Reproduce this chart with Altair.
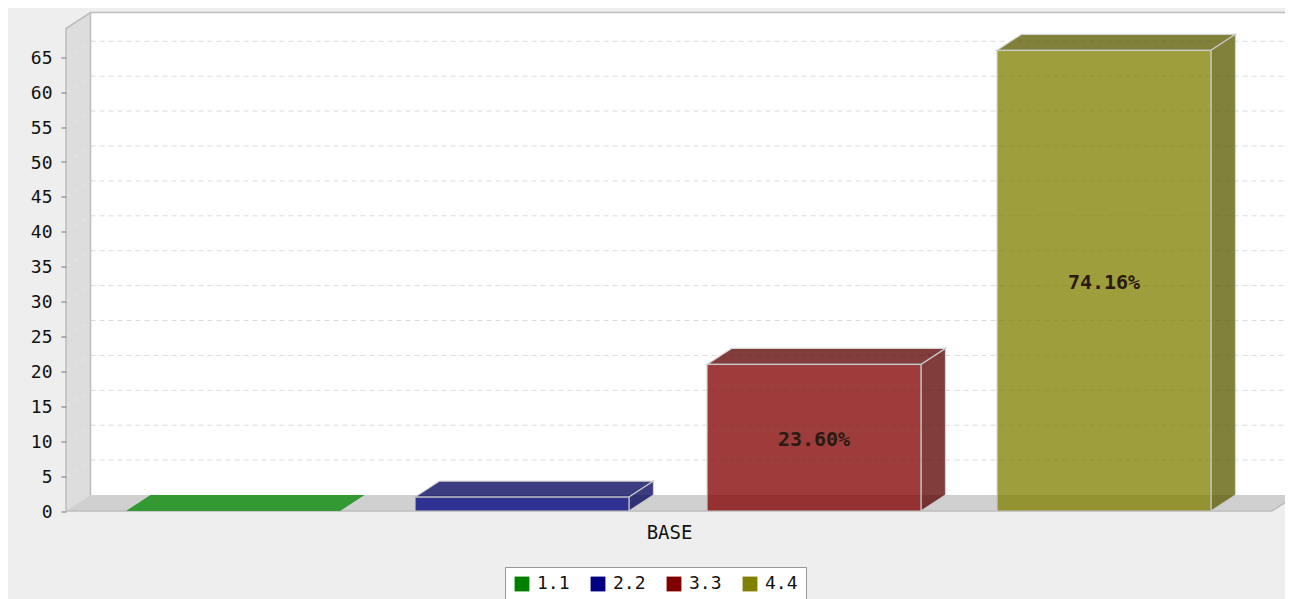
import altair as alt
import pandas as pd

series = ["1.1", "2.2", "3.3", "4.4"]
values = [0, 2, 21, 66]
labels = ["", "", "23.60%", "74.16%"]
front_colors = ["#008000", "#000080", "#800000", "#808000"]
dark_colors = ["#008000", "#00005a", "#5a0000", "#5a5a00"]
y_ticks = list(range(0, 70, 5))
category = "BASE"

PX = 6.98            # pixels per value unit
Y_MAX = 482.5 / PX   # top of the front plane
DX = 24.5            # depth, x scale units
DY = 16 / PX         # depth, y scale units
FRONT_W = 1206.0     # category axis length
VIEW_W = 1219.0
BAR_W = 214.0
OPACITY = 0.76
EDGE = "#c8c8c8"
MONO = "DejaVu Sans Mono"
bar_left = [60.0, 349.0, 641.0, 931.0]
RIGHT = FRONT_W + DX + 10


def para(face, x0, x1, y, fill, stroke="none", opacity=1.0):
    """Horizontal parallelogram receding into the depth."""
    rows = [(x0, y, y), (x0 + DX, y, y + DY), (x1, y, y + DY), (x1 + DX, y + DY, y + DY)]
    return [dict(face=face, x=a, y=b, y2=c, fill=fill, edge=stroke, op=opacity) for a, b, c in rows]


def side(face, x, y0, y1, fill, stroke="none", opacity=1.0):
    """Vertical parallelogram receding into the depth."""
    return [
        dict(face=face, x=x, y=y0, y2=y1, fill=fill, edge=stroke, op=opacity),
        dict(face=face, x=x + DX, y=y0 + DY, y2=y1 + DY, fill=fill, edge=stroke, op=opacity),
    ]


X = alt.X("x:Q", scale=alt.Scale(domain=[0, VIEW_W], nice=False, zero=False), axis=alt.Axis(
    values=[FRONT_W / 2], labelExpr=f"'{category}'", title=None, domain=False, ticks=False, grid=False,
    labelFont=MONO, labelFontSize=19, labelColor="#111111", labelPadding=12,
))
Y = alt.Y("y:Q", scale=alt.Scale(domain=[0, Y_MAX], nice=False, zero=False), axis=alt.Axis(
    values=y_ticks, title=None, domain=False, grid=False, tickSize=5, tickColor="#999999", tickWidth=1.5,
    labelFont=MONO, labelFontSize=18, labelColor="#111111", labelPadding=9, labelOffset=1, zindex=1,
))


def faces(rows):
    return alt.Chart(pd.DataFrame(rows)).mark_area(strokeWidth=1.2).encode(
        x=X, y=Y, y2="y2:Q",
        fill=alt.Fill("fill:N", scale=None),
        stroke=alt.Stroke("edge:N", scale=None),
        opacity=alt.Opacity("op:Q", scale=None),
        detail="face:N",
    )


# walls and floor
walls = faces(
    side("leftwall", 0, 0, Y_MAX, "#dddddd")
    + para("floor", 0, FRONT_W, 0, "#d0d0d0")
    + [dict(face="back", x=DX, y=DY, y2=Y_MAX + DY, fill="#ffffff", edge="none", op=1.0),
       dict(face="back", x=RIGHT, y=DY, y2=Y_MAX + DY, fill="#ffffff", edge="none", op=1.0)]
)

# grid
grid_df = pd.DataFrame([dict(x=DX, x2=RIGHT, y=v + DY) for v in y_ticks[1:]])
grid = alt.Chart(grid_df).mark_rule(color="#dcdcdc", strokeDash=[5, 4], strokeWidth=1).encode(x=X, x2="x2:Q", y=Y)

diag_rows = []
for v in y_ticks[1:]:
    diag_rows += [dict(v=v, x=0, y=v), dict(v=v, x=DX, y=v + DY)]
diag = alt.Chart(pd.DataFrame(diag_rows)).mark_line(color="#e8e8e8", strokeDash=[5, 4], strokeWidth=1).encode(x=X, y=Y, detail="v:N")

# wall outlines
edge_rows = [
    dict(k="a", x=0, y=0, i=0), dict(k="a", x=0, y=Y_MAX, i=1), dict(k="a", x=DX, y=Y_MAX + DY, i=2), dict(k="a", x=RIGHT, y=Y_MAX + DY, i=3),
    dict(k="b", x=DX, y=DY, i=0), dict(k="b", x=DX, y=Y_MAX + DY, i=1),
    dict(k="c", x=0, y=0, i=0), dict(k="c", x=FRONT_W, y=0, i=1), dict(k="c", x=FRONT_W + DX, y=DY, i=2),
]
edges = alt.Chart(pd.DataFrame(edge_rows)).mark_line(color="#bdbdbd", strokeWidth=1.5).encode(
    x=X, y=Y, detail="k:N", order="i:Q"
)

# bars: tops and sides
rows = []
for s, v, left, d in zip(series, values, bar_left, dark_colors):
    if v == 0:
        rows += para("top" + s, left, left + BAR_W, 0, "#339933")
    else:
        rows += para("top" + s, left, left + BAR_W, v, d, EDGE, OPACITY)
        rows += side("side" + s, left + BAR_W, 0, v, d, EDGE, OPACITY)
bar_depth = faces(rows)

# bars: front faces, source of the legend
front_df = pd.DataFrame({
    "series": series,
    "x": bar_left,
    "x2": [b + BAR_W for b in bar_left],
    "y": values,
    "y0": [0] * len(values),
    "edge": [EDGE if v > 0 else "transparent" for v in values],
})
front = alt.Chart(front_df).mark_rect(opacity=OPACITY, strokeWidth=1.2).encode(
    x=X, x2="x2:Q", y=Y, y2="y0:Q",
    stroke=alt.Stroke("edge:N", scale=None),
    color=alt.Color(
        "series:N",
        scale=alt.Scale(domain=series, range=front_colors),
        legend=alt.Legend(
            title=None, orient="none", legendX=439, legendY=538.5, direction="horizontal", columns=4,
            fillColor="#ffffff", strokeColor="#999999", padding=8,
            symbolType="square", symbolSize=220, symbolOpacity=1, symbolStrokeWidth=0,
            labelFont=MONO, labelFontSize=18, labelColor="#111111",
            columnPadding=19, labelOffset=6,
        ),
    ),
)

# value labels
text_df = pd.DataFrame({
    "x": [b + BAR_W / 2 for b in bar_left],
    "y": [v / 2 for v in values],
    "label": labels,
})
text = alt.Chart(text_df).mark_text(
    font=MONO, fontWeight="bold", fontSize=20, color="#2a1a10", dy=2
).encode(x=X, y=Y, text="label:N")

chart = alt.layer(walls, grid, diag, edges, bar_depth, front, text).resolve_scale(
    x="shared", y="shared"
).properties(
    width=VIEW_W, height=482.5,
    padding={"left": 58, "top": 20.5, "right": 0, "bottom": 88},
    autosize=alt.AutoSizeParams(type="none"),
    background="#eeeeee",
).configure_view(stroke=None)

chart.save("out.html", embed_options={"renderer": "svg", "actions": False})
